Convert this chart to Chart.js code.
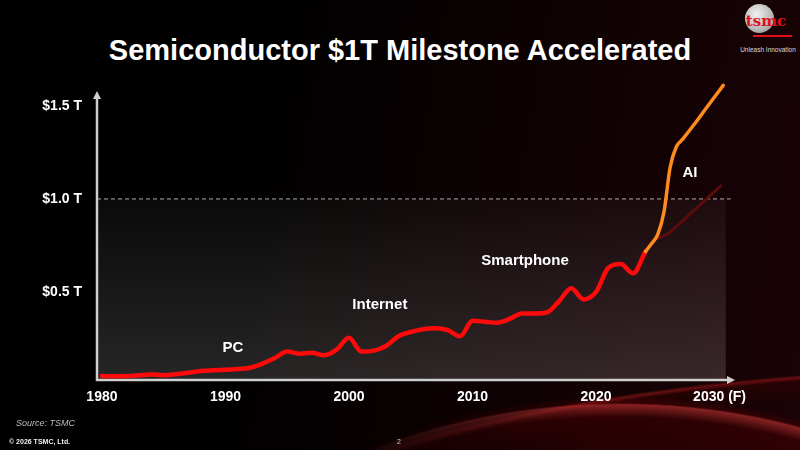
<!DOCTYPE html>
<html>
<head>
<meta charset="utf-8">
<script src="https://cdn.jsdelivr.net/npm/chart.js@4/dist/chart.umd.min.js"></script>
<style>
  html, body { margin: 0; padding: 0; }
  body {
    width: 800px; height: 450px; overflow: hidden; position: relative;
    font-family: "Liberation Sans", Arial, sans-serif;
    background: linear-gradient(100deg, #000 30%, #1b0306 100%);
  }
  .glow {
    position: absolute; left: 0; top: 0; width: 800px; height: 450px;
    background:
      radial-gradient(ellipse 500px 350px at 620px 753px, rgba(60,0,0,0) 60%, rgba(90,0,4,0.35) 96%, rgba(220,60,60,0.55) 99.5%, rgba(150,0,0,0.2) 100%, rgba(0,0,0,0) 102%),
      radial-gradient(ellipse 900px 300px at 1000px 669px, rgba(0,0,0,0) 92%, rgba(70,0,0,0.3) 98.5%, rgba(200,30,30,0.45) 99.7%, rgba(0,0,0,0) 100.5%);
    -webkit-mask-image: linear-gradient(90deg, transparent 42%, #000 75%);
    mask-image: linear-gradient(90deg, transparent 42%, #000 75%);
  }
  #chart { position: absolute; left: 0; top: 0; }
  .title {
    position: absolute; left: 0; width: 800px; top: 33px; text-align: center;
    color: #fff; font-weight: bold; font-size: 29px; line-height: 34px;
  }
  .logo { position: absolute; left: 736px; top: 1px; width: 60px; height: 52px; }
  .globe {
    position: absolute; left: 9px; top: 3px; width: 29px; height: 29px; border-radius: 50%;
    background: radial-gradient(circle at 40% 35%, #f2f2f2, #b0b0b0 65%, #7a7a7a);
  }
  .tsmc {
    position: absolute; left: 4px; top: 12px; width: 52px; text-align: center;
    color: #e0101a; font-family: "DejaVu Serif", serif; font-weight: bold; font-size: 15px; line-height: 16px;
  }
  .bar { position: absolute; left: 17px; top: 34px; width: 39px; height: 2px; background: #e0101a; }
  .slogan {
    position: absolute; left: 3px; top: 45px; width: 58px; text-align: center;
    color: #ddd; font-size: 6.5px; line-height: 8px; white-space: nowrap;
  }
  .source { position: absolute; left: 16px; top: 418px; color: #bbb; font-style: italic; font-size: 9px; }
  .copy { position: absolute; left: 9px; top: 438px; color: #eee; font-weight: bold; font-size: 7px; }
  .page { position: absolute; left: 397px; top: 438px; color: #ccc; font-size: 7px; }
</style>
</head>
<body>
<div class="glow"></div>
<div class="title">Semiconductor $1T Milestone Accelerated</div>
<div class="logo">
  <div class="globe"></div>
  <div class="tsmc">tsmc</div>
  <div class="bar"></div>
  <div class="slogan">Unleash Innovation</div>
</div>
<canvas id="chart" width="800" height="450"></canvas>
<div class="source">Source: TSMC</div>
<div class="copy">© 2026 TSMC, Ltd.</div>
<div class="page">2</div>
<script>
// semiconductor market, trillion USD
const years = [1980, 1981, 1982, 1983, 1984, 1985, 1986, 1987, 1988, 1989,
  1990, 1991, 1992, 1993, 1994, 1995, 1996, 1997, 1998, 1999,
  2000, 2001, 2002, 2003, 2004, 2005, 2006, 2007, 2008, 2009,
  2010, 2011, 2012, 2013, 2014, 2015, 2016, 2017, 2018, 2019,
  2020, 2021, 2022, 2023, 2024];
const marketValues = [0.048, 0.047, 0.048, 0.052, 0.057, 0.053, 0.058, 0.066, 0.075, 0.080,
  0.082, 0.086, 0.093, 0.115, 0.145, 0.180, 0.168, 0.173, 0.160, 0.190,
  0.254, 0.180, 0.185, 0.210, 0.262, 0.285, 0.300, 0.305, 0.295, 0.262,
  0.345, 0.340, 0.335, 0.355, 0.385, 0.385, 0.390, 0.450, 0.520, 0.460,
  0.500, 0.630, 0.650, 0.600, 0.717];

// AI-accelerated forecast
const aiYears = [2024, 2024.5, 2025, 2025.5, 2026, 2026.5, 2027, 2028, 2029, 2030.3];
const aiValues = [0.717, 0.76, 0.81, 0.93, 1.17, 1.28, 1.32, 1.405, 1.495, 1.61];

// previous trajectory without AI
const baseYears = [2025.1, 2025.9, 2030.1];
const baseValues = [0.79, 0.815, 1.07];

const xTicks = [1980, 1990, 2000, 2010, 2020, 2030];
const xTickLabels = ["1980", "1990", "2000", "2010", "2020", "2030 (F)"];
const yTicks = [0.5, 1.0, 1.5];
const yTickLabels = ["$0.5 T", "$1.0 T", "$1.5 T"];
const milestone = 1.0;

const stageNames = ["PC", "Internet", "Smartphone", "AI"];
const stageYears = [1990.6, 2002.5, 2014.25, 2027.6];
const stageValues = [0.2, 0.43, 0.667, 1.14];

const toPoints = (xs, ys) => xs.map((x, i) => ({ x: x, y: ys[i] }));

Chart.defaults.font.family = '"Liberation Sans", Arial, sans-serif';

// background panel, milestone line, arrowed axes and stage labels
const decor = {
  id: "decor",
  beforeDatasetsDraw(chart) {
    const { ctx, chartArea: a, scales: { x, y } } = chart;
    const yM = y.getPixelForValue(milestone);
    ctx.save();
    const g = ctx.createLinearGradient(0, yM, 0, a.bottom);
    g.addColorStop(0, "rgba(255,255,255,0.04)");
    g.addColorStop(1, "rgba(255,255,255,0.15)");
    ctx.fillStyle = g;
    ctx.fillRect(a.left, yM, x.getPixelForValue(2030.5) - a.left, a.bottom - yM);

    ctx.setLineDash([4, 3]);
    ctx.strokeStyle = "rgba(200,200,200,0.85)";
    ctx.lineWidth = 1;
    ctx.beginPath();
    ctx.moveTo(a.left, yM);
    ctx.lineTo(x.getPixelForValue(2030.9), yM);
    ctx.stroke();
    ctx.setLineDash([]);

    ctx.strokeStyle = "#cfcfcf";
    ctx.fillStyle = "#cfcfcf";
    ctx.lineWidth = 2.5;
    ctx.beginPath();
    ctx.moveTo(a.left, a.top + 6);
    ctx.lineTo(a.left, a.bottom);
    ctx.lineTo(a.right - 6, a.bottom);
    ctx.stroke();
    ctx.beginPath();
    ctx.moveTo(a.left, a.top);
    ctx.lineTo(a.left - 4, a.top + 8);
    ctx.lineTo(a.left + 4, a.top + 8);
    ctx.fill();
    ctx.beginPath();
    ctx.moveTo(a.right, a.bottom);
    ctx.lineTo(a.right - 8, a.bottom - 4);
    ctx.lineTo(a.right - 8, a.bottom + 4);
    ctx.fill();
    ctx.restore();
  },
  afterDatasetsDraw(chart) {
    const { ctx, scales: { x, y } } = chart;
    ctx.save();
    ctx.fillStyle = "#fff";
    ctx.font = 'bold 15px "Liberation Sans", Arial, sans-serif';
    ctx.textAlign = "center";
    ctx.textBaseline = "middle";
    stageNames.forEach((name, i) => {
      ctx.fillText(name, x.getPixelForValue(stageYears[i]), y.getPixelForValue(stageValues[i]));
    });
    ctx.restore();
  },
};

const lineStyle = {
  pointRadius: 0,
  fill: false,
  cubicInterpolationMode: "monotone",
  borderCapStyle: "round",
  borderJoinStyle: "round",
};

new Chart(document.getElementById("chart"), {
  type: "line",
  data: {
    datasets: [
      { ...lineStyle, label: "AI", data: toPoints(aiYears, aiValues), borderColor: "#ff8a1e", borderWidth: 3.5, clip: false },
      { ...lineStyle, label: "Market", data: toPoints(years, marketValues), borderColor: "#ff0a0a", borderWidth: 4.5 },
      { ...lineStyle, label: "Without AI", data: toPoints(baseYears, baseValues), borderColor: "#5c0b0b", borderWidth: 3, cubicInterpolationMode: "default", tension: 0 },
    ],
  },
  options: {
    responsive: false,
    animation: false,
    layout: { padding: { top: 91, right: 65, bottom: 0, left: 0 } },
    plugins: { legend: { display: false }, tooltip: { enabled: false } },
    scales: {
      x: {
        type: "linear",
        min: 1979.6,
        max: 2031.25,
        grid: { display: false, drawTicks: false },
        border: { display: false },
        afterBuildTicks: (s) => { s.ticks = xTicks.map((v) => ({ value: v })); },
        afterFit: (s) => { s.height = 70; },
        ticks: {
          color: "#fff",
          font: { size: 14, weight: "bold" },
          padding: 9,
          autoSkip: false,
          maxRotation: 0,
          callback: (v, i) => xTickLabels[i],
        },
      },
      y: {
        min: 0.027,
        max: 1.58,
        grid: { display: false, drawTicks: false },
        border: { display: false },
        afterBuildTicks: (s) => { s.ticks = yTicks.map((v) => ({ value: v })); },
        afterFit: (s) => { s.width = 97; },
        ticks: {
          color: "#fff",
          font: { size: 14, weight: "bold" },
          padding: 15,
          callback: (v, i) => yTickLabels[i],
        },
      },
    },
  },
  plugins: [decor],
});
</script>
</body>
</html>
